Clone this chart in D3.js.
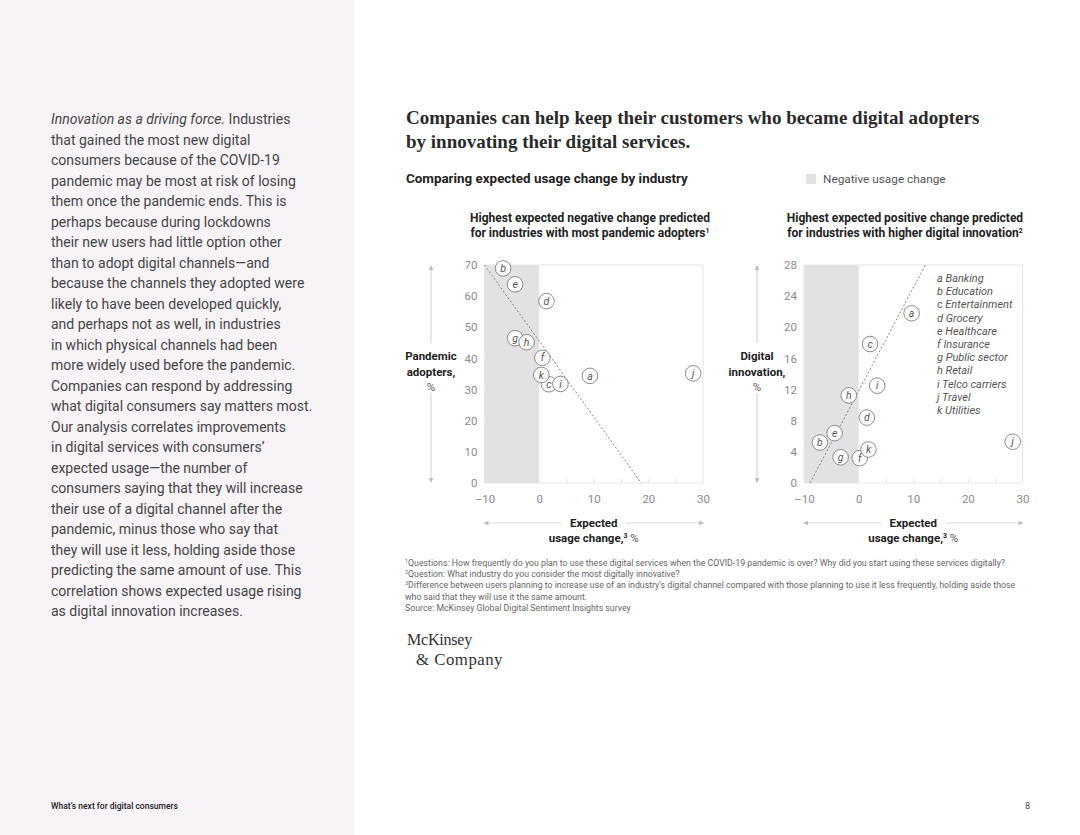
<!DOCTYPE html>
<html>
<head>
<meta charset="utf-8">
<script src="https://cdn.jsdelivr.net/npm/d3@7"></script>
<style>
  body { margin: 0; background: #fff; }
  svg { display: block; font-family: Roboto, "Liberation Sans", sans-serif; }
</style>
</head>
<body>
<svg id="page" width="1080" height="835"></svg>
<script>
// industries shared by both panels
const letters = ["a", "b", "c", "d", "e", "f", "g", "h", "i", "j", "k"];
const industries = ["Banking", "Education", "Entertainment", "Grocery", "Healthcare", "Insurance",
  "Public sector", "Retail", "Telco carriers", "Travel", "Utilities"];

// left panel: expected usage change vs pandemic adopters
const leftUsage    = [9.3, -6.6, 1.8, 1.35, -4.4, 0.6, -4.4, -2.3, 3.9, 28.2, 0.4];
const leftAdopters = [34.4, 68.9, 31.7, 58.4, 63.8, 40.2, 46.5, 45.2, 31.8, 35.2, 34.7];
const leftTrend = [[-10, 70], [18.7, 0]];
const leftYTicks = [0, 10, 20, 30, 40, 50, 60, 70];

// right panel: expected usage change vs digital innovation
const rightUsage      = [9.7, -7.1, 2.1, 1.5, -4.4, 0.2, -3.3, -1.8, 3.4, 28.2, 1.8];
const rightInnovation = [21.8, 5.2, 17.85, 8.4, 6.4, 3.2, 3.3, 11.25, 12.5, 5.3, 4.3];
const rightTrend = [[-8.9, 0], [12.2, 28]];
const rightYTicks = [0, 4, 8, 12, 16, 20, 24, 28];

const xTicks = [-10, 0, 10, 20, 30];
const xMinorTicks = [5, 10, 15, 20, 25];

const bodyLines = [
  "that gained the most new digital",
  "consumers because of the COVID-19",
  "pandemic may be most at risk of losing",
  "them once the pandemic ends. This is",
  "perhaps because during lockdowns",
  "their new users had little option other",
  "than to adopt digital channels\u2014and",
  "because the channels they adopted were",
  "likely to have been developed quickly,",
  "and perhaps not as well, in industries",
  "in which physical channels had been",
  "more widely used before the pandemic.",
  "Companies can respond by addressing",
  "what digital consumers say matters most.",
  "Our analysis correlates improvements",
  "in digital services with consumers\u2019",
  "expected usage\u2014the number of",
  "consumers saying that they will increase",
  "their use of a digital channel after the",
  "pandemic, minus those who say that",
  "they will use it less, holding aside those",
  "predicting the same amount of use. This",
  "correlation shows expected usage rising",
  "as digital innovation increases."
];

const footnotes = [
  ["1", "Questions: How frequently do you plan to use these digital services when the COVID-19 pandemic is over? Why did you start using these services digitally?"],
  ["2", "Question: What industry do you consider the most digitally innovative?"],
  ["3", "Difference between users planning to increase use of an industry\u2019s digital channel compared with those planning to use it less frequently, holding aside those"],
  ["", " who said that they will use it the same amount."],
  ["", " Source: McKinsey Global Digital Sentiment Insights survey"]
];

const shade = "#e4e1e4";
const svg = d3.select("#page");

// left column
svg.append("rect").attr("x", 0).attr("y", 0).attr("width", 354).attr("height", 835).attr("fill", "#f7f3f7");

const body = svg.append("g").attr("font-size", 14).attr("fill", "#454545");
const first = body.append("text").attr("x", 51).attr("y", 124);
first.append("tspan").attr("font-style", "italic").text("Innovation as a driving force.");
first.append("tspan").text(" Industries");
body.selectAll(".line")
  .data(bodyLines)
  .join("text")
    .attr("class", "line")
    .attr("x", 51)
    .attr("y", (d, i) => 124 + (i + 1) * 20.5)
    .text(d => d);

svg.append("text").attr("x", 51).attr("y", 809).attr("font-size", 8.5).attr("font-weight", 500)
  .attr("fill", "#222").text("What\u2019s next for digital consumers");
svg.append("text").attr("x", 1030).attr("y", 809).attr("font-size", 8.5).attr("text-anchor", "end")
  .attr("fill", "#444").text("8");

// titles
const title = svg.append("text").attr("font-family", "'Liberation Serif', serif")
  .attr("font-size", 19).attr("font-weight", 700).attr("fill", "#2a2a2a");
title.append("tspan").attr("x", 406).attr("y", 124).text("Companies can help keep their customers who became digital adopters");
title.append("tspan").attr("x", 406).attr("y", 148).text("by innovating their digital services.");

svg.append("text").attr("x", 406).attr("y", 183).attr("font-size", 13.4).attr("font-weight", 700)
  .attr("fill", "#222").text("Comparing expected usage change by industry");

svg.append("rect").attr("x", 806).attr("y", 174).attr("width", 10).attr("height", 10).attr("fill", shade);
svg.append("text").attr("x", 823).attr("y", 183).attr("font-size", 11.8).attr("fill", "#555").text("Negative usage change");

function arrowHead(g, x, y, dir) {
  // dir: "up", "down", "left", "right"
  const s = 3.2;
  const pts = {
    up: [[x, y - s], [x - s * 0.7, y + s * 0.6], [x + s * 0.7, y + s * 0.6]],
    down: [[x, y + s], [x - s * 0.7, y - s * 0.6], [x + s * 0.7, y - s * 0.6]],
    left: [[x - s, y], [x + s * 0.6, y - s * 0.7], [x + s * 0.6, y + s * 0.7]],
    right: [[x + s, y], [x - s * 0.6, y - s * 0.7], [x - s * 0.6, y + s * 0.7]]
  }[dir];
  g.append("path").attr("d", "M" + pts.join("L") + "Z").attr("fill", "#bdbdbd");
}

function drawPanel(cfg) {
  const x = d3.scaleLinear().domain([-10, 30]).range([cfg.left, cfg.left + 218.5]);
  const y = d3.scaleLinear().domain(cfg.yDomain).range([483, 265]);
  const g = svg.append("g");

  // subtitle
  const st = g.append("text").attr("text-anchor", "middle").attr("font-size", 12)
    .attr("font-weight", 700).attr("fill", "#222");
  st.append("tspan").attr("x", cfg.subX).attr("y", 222).text(cfg.sub[0]);
  st.append("tspan").attr("x", cfg.subX).attr("y", 237).text(cfg.sub[1]);
  st.append("tspan").attr("font-size", 7).attr("dy", -4).text(cfg.note);

  // negative zone
  g.append("rect")
    .attr("x", x(-10)).attr("y", y.range()[1])
    .attr("width", x(0) - x(-10)).attr("height", y.range()[0] - y.range()[1])
    .attr("fill", shade);

  // frame
  g.append("rect")
    .attr("x", x(-10)).attr("y", y.range()[1])
    .attr("width", x(30) - x(-10)).attr("height", y.range()[0] - y.range()[1])
    .attr("fill", "none").attr("stroke", "#e6e6e6").attr("stroke-width", 1);

  // minor ticks on baseline
  g.append("g")
    .attr("transform", `translate(0,${y(0)})`)
    .call(d3.axisTop(x).tickValues(xMinorTicks).tickSize(4).tickFormat(""))
    .call(a => a.select(".domain").remove())
    .call(a => a.selectAll("line").attr("stroke", "#e0e0e0"));

  g.append("g")
    .attr("transform", `translate(0,${y(0)})`)
    .call(d3.axisBottom(x).tickValues(xTicks).tickSize(0).tickPadding(12)
      .tickFormat(d => d < 0 ? "\u2013" + Math.abs(d) : d))
    .call(a => a.select(".domain").remove())
    .call(a => a.selectAll("text").attr("font-size", 11.5).attr("fill", "#8a8a8a")
      .attr("font-family", "Roboto, sans-serif"));

  g.append("g")
    .attr("transform", `translate(${x(-10)},0)`)
    .call(d3.axisLeft(y).tickValues(cfg.yTicks).tickSize(0).tickPadding(7))
    .call(a => a.select(".domain").remove())
    .call(a => a.selectAll("text").attr("font-size", 11.5).attr("fill", "#8a8a8a")
      .attr("font-family", "Roboto, sans-serif"));

  // trend line
  g.append("line")
    .attr("x1", x(cfg.trend[0][0])).attr("y1", y(cfg.trend[0][1]))
    .attr("x2", x(cfg.trend[1][0])).attr("y2", y(cfg.trend[1][1]))
    .attr("stroke", "#777").attr("stroke-width", 0.9).attr("stroke-dasharray", "2,2");

  // points
  const pts = letters.map((l, i) => ({ l, xv: cfg.xs[i], yv: cfg.ys[i] }));
  const node = g.selectAll(".pt")
    .data(pts)
    .join("g")
      .attr("class", "pt")
      .attr("transform", d => `translate(${x(d.xv)},${y(d.yv)})`);
  node.append("circle").attr("r", 7.8).attr("fill", "#fff").attr("stroke", "#6e6e6e").attr("stroke-width", 0.8);
  node.append("text").attr("text-anchor", "middle").attr("dy", "0.35em")
    .attr("font-size", 10.5).attr("font-style", "italic").attr("fill", "#555").text(d => d.l);

  // y axis label with arrow
  const ax = cfg.yLabelX;
  g.append("line").attr("x1", ax).attr("x2", ax).attr("y1", 268).attr("y2", 343).attr("stroke", "#cfcfcf");
  g.append("line").attr("x1", ax).attr("x2", ax).attr("y1", 393).attr("y2", 480).attr("stroke", "#cfcfcf");
  arrowHead(g, ax, 268, "up");
  arrowHead(g, ax, 480, "down");
  const yl = g.append("text").attr("text-anchor", "middle").attr("font-size", 11.5).attr("fill", "#222");
  yl.append("tspan").attr("x", ax).attr("y", 360).attr("font-weight", 700).text(cfg.yLabel[0]);
  yl.append("tspan").attr("x", ax).attr("y", 376).attr("font-weight", 700).text(cfg.yLabel[1]);
  yl.append("tspan").attr("x", ax).attr("y", 391).attr("fill", "#555").text("%");

  // x axis label with arrow
  const cx = (x(-10) + x(30)) / 2;
  const ay = 523;
  g.append("line").attr("x1", x(-10) + 2).attr("x2", cx - 32).attr("y1", ay).attr("y2", ay).attr("stroke", "#dcdcdc");
  g.append("line").attr("x1", cx + 32).attr("x2", x(30) - 2).attr("y1", ay).attr("y2", ay).attr("stroke", "#dcdcdc");
  arrowHead(g, x(-10) + 2, ay, "left");
  arrowHead(g, x(30) - 2, ay, "right");
  const xl = g.append("text").attr("text-anchor", "middle").attr("font-size", 11.5).attr("fill", "#222");
  xl.append("tspan").attr("x", cx).attr("y", 527).attr("font-weight", 700).text("Expected");
  const l2 = g.append("text").attr("text-anchor", "middle").attr("font-size", 11.5).attr("x", cx).attr("y", 542);
  l2.append("tspan").attr("font-weight", 700).attr("fill", "#222").text("usage change,");
  l2.append("tspan").attr("font-weight", 700).attr("fill", "#222").attr("font-size", 7).attr("dy", -4).text("3");
  l2.append("tspan").attr("fill", "#555").attr("dy", 4).text(" %");

  return { x, y, g };
}

drawPanel({
  left: 484.5, yDomain: [0, 70], yTicks: leftYTicks, xs: leftUsage, ys: leftAdopters, trend: leftTrend,
  subX: 590, sub: ["Highest expected negative change predicted", "for industries with most pandemic adopters"], note: "1",
  yLabelX: 431, yLabel: ["Pandemic", "adopters,"]
});

const right = drawPanel({
  left: 804, yDomain: [0, 28], yTicks: rightYTicks, xs: rightUsage, ys: rightInnovation, trend: rightTrend,
  subX: 905, sub: ["Highest expected positive change predicted", "for industries with higher digital innovation"], note: "2",
  yLabelX: 757, yLabel: ["Digital", "innovation,"]
});

// industry key
right.g.append("g")
  .selectAll("text")
  .data(letters)
  .join("text")
    .attr("x", 937)
    .attr("y", (d, i) => 282 + i * 13.2)
    .attr("font-size", 11)
    .attr("font-style", "italic")
    .attr("fill", "#555")
    .text((d, i) => d + " " + industries[i]);

// footnotes
const fn = svg.append("g").attr("font-size", 8.75).attr("fill", "#666");
footnotes.forEach((f, i) => {
  const t = fn.append("text").attr("x", 405).attr("y", 566 + i * 11.2);
  if (f[0]) t.append("tspan").attr("font-size", 5.5).attr("dy", -3).text(f[0]);
  t.append("tspan").attr("dy", f[0] ? 3 : 0).text(f[1]);
});

// logo
const logo = svg.append("g").attr("font-family", "'Liberation Serif', serif").attr("fill", "#333");
logo.append("text").attr("x", 407).attr("y", 645).attr("font-size", 16).attr("letter-spacing", -0.2).text("McKinsey");
logo.append("text").attr("x", 416).attr("y", 665).attr("font-size", 16.8).attr("letter-spacing", 0.5).text("& Company");
</script>
</body>
</html>
